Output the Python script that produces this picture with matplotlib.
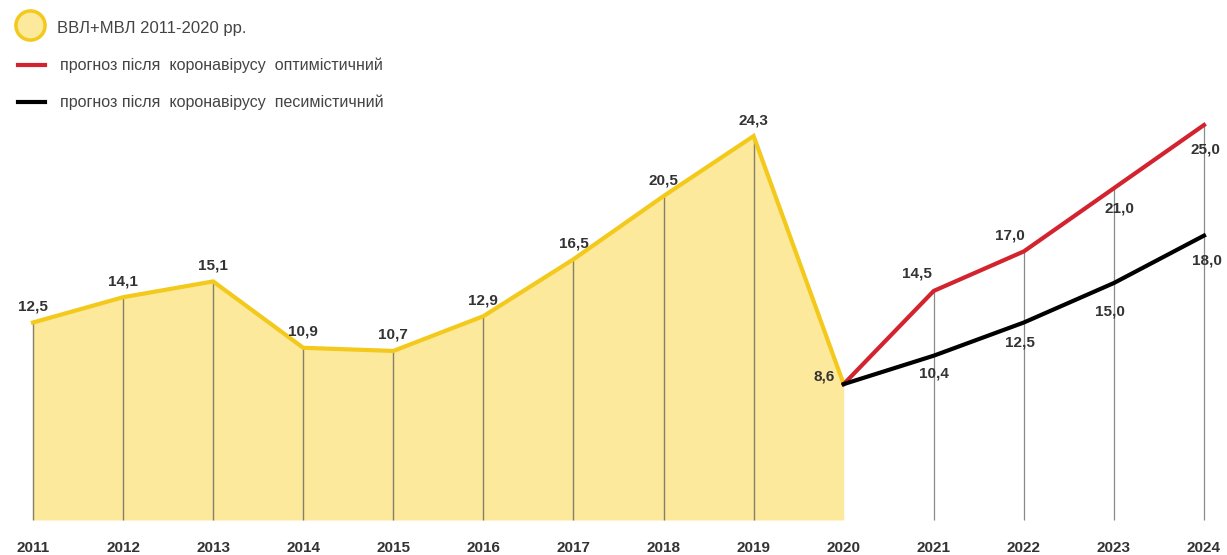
import matplotlib.pyplot as plt
from matplotlib.lines import Line2D

# ----------------------------
# Data
# ----------------------------
years_hist = [2011, 2012, 2013, 2014, 2015, 2016, 2017, 2018, 2019, 2020]
vals_hist = [12.5, 14.1, 15.1, 10.9, 10.7, 12.9, 16.5, 20.5, 24.3, 8.6]

years_fc = [2020, 2021, 2022, 2023, 2024]
vals_opt = [8.6, 14.5, 17.0, 21.0, 25.0]
vals_pes = [8.6, 10.4, 12.5, 15.0, 18.0]

all_years = list(range(2011, 2025))

legend_labels = [
    "ВВЛ+МВЛ 2011-2020 рр.",
    "прогноз після  коронавірусу  оптимістичний",
    "прогноз після  коронавірусу  песимістичний",
]

def fmt(v):
    return f"{v:.1f}".replace(".", ",")

# ----------------------------
# Figure
# ----------------------------
plt.rcParams["font.family"] = ["Liberation Sans", "DejaVu Sans"]

W, H = 1227, 555
fig = plt.figure(figsize=(W / 100, H / 100), dpi=100)
ax = fig.add_axes([0, 0, 1, 1])

px_year = (1204 - 33) / 13
px_unit = 15.8
ax.set_xlim(2011 - 33 / px_year, 2024 + (W - 1204) / px_year)
ax.set_ylim(-(H - 520) / px_unit, 520 / px_unit)
ax.axis("off")

yellow = "#F3C91C"
fill = "#FDE99B"
red = "#D2232E"

# history area
ax.fill_between(years_hist, 0, vals_hist, color=fill, lw=0, zorder=1)
ax.vlines(years_hist[:-1], 0, vals_hist[:-1], color="#86806a", lw=1, zorder=2)
ax.plot(years_hist, vals_hist, color=yellow, lw=3, zorder=3, solid_joinstyle="miter")

# forecast
ax.vlines(years_fc[1:], 0, vals_opt[1:], color="#8a8a8a", lw=0.9, zorder=2)
ax.plot(years_fc, vals_opt, color=red, lw=3, zorder=4)
ax.plot(years_fc, vals_pes, color="black", lw=3, zorder=4)

lab_kw = dict(fontsize=11, fontweight="bold", color="#333333",
              textcoords="offset pixels", va="center", ha="center", zorder=5)

for x, v in zip(years_hist[:-1], vals_hist[:-1]):
    ax.annotate(fmt(v), (x, v), xytext=(0, 16), **lab_kw)
ax.annotate(fmt(vals_hist[-1]), (years_hist[-1], vals_hist[-1]), xytext=(-20, 8), **lab_kw)

opt_off = [(-17, 17), (-14, 16), (6, -20), (1, -25)]
pes_off = [(0, -18), (-4, -20), (-4, -28), (3, -25)]
for x, v, o in zip(years_fc[1:], vals_opt[1:], opt_off):
    ax.annotate(fmt(v), (x, v), xytext=o, **lab_kw)
for x, v, o in zip(years_fc[1:], vals_pes[1:], pes_off):
    ax.annotate(fmt(v), (x, v), xytext=o, **lab_kw)

for yr in all_years:
    ax.text(yr, -(548 - 520) / px_unit, str(yr), ha="center", va="center",
            fontsize=11, fontweight="bold", color="#333333")

# ----------------------------
# Legend (drawn by hand)
# ----------------------------
def fx(p):
    return p / W

def fy(p):
    return 1 - p / H

fig.add_artist(Line2D([fx(30)], [fy(25)], marker="o", markersize=21,
                      markerfacecolor=fill, markeredgecolor=yellow,
                      markeredgewidth=2.5, transform=fig.transFigure))
fig.add_artist(Line2D([fx(18), fx(45)], [fy(65), fy(65)], color=red, lw=3,
                      transform=fig.transFigure))
fig.add_artist(Line2D([fx(18), fx(45)], [fy(102), fy(102)], color="black", lw=3,
                      transform=fig.transFigure))

fig.text(fx(57), fy(28), legend_labels[0], fontsize=12, color="#444444", va="center")
fig.text(fx(60), fy(65), legend_labels[1], fontsize=11.5, color="#444444", va="center")
fig.text(fx(60), fy(102), legend_labels[2], fontsize=11.5, color="#444444", va="center")

fig.savefig("out.png", dpi=100)
